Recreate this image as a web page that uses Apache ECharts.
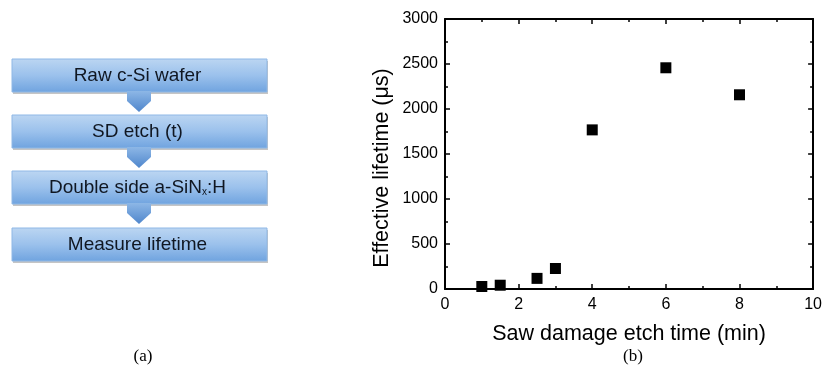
<!DOCTYPE html>
<html>
<head>
<meta charset="utf-8">
<script src="https://cdn.jsdelivr.net/npm/echarts@6/dist/echarts.min.js"></script>
<style>
  html, body { margin: 0; padding: 0; background: #fff; }
  #chart { width: 825px; height: 380px; }
</style>
</head>
<body>
<div id="chart"></div>
<script>
// Process steps (panel a)
const steps = ["Raw c-Si wafer", "SD etch (t)", "Double side a-SiN{sub|x}:H", "Measure lifetime"];
const panelLabels = ["(a)", "(b)"];

// Lifetime data (panel b)
const etchTime = [1, 1.5, 2.5, 3, 4, 6, 8];
const lifetime = [28, 42, 118, 228, 1768, 2458, 2158];

const chart = echarts.init(document.getElementById("chart"));

// --- flowchart graphics ---
const boxLeft = 12, boxWidth = 255, boxHeight = 33;
const boxTops = [59, 115, 171, 228];
const graphics = [];

boxTops.forEach(function (top, i) {
    // shadow
    graphics.push({
        type: "rect",
        shape: { x: boxLeft + 1, y: top + 2, width: boxWidth, height: boxHeight },
        style: { fill: "rgba(110,110,110,0.4)" },
        z: 1
    });
    graphics.push({
        type: "rect",
        shape: { x: boxLeft, y: top, width: boxWidth, height: boxHeight },
        style: {
            fill: new echarts.graphic.LinearGradient(0, 0, 0, 1, [
                { offset: 0, color: "#bcd6f2" },
                { offset: 0.5, color: "#9bc1ec" },
                { offset: 1, color: "#6fa3df" }
            ]),
            stroke: "#8fb8e6",
            lineWidth: 1
        },
        z: 2
    });
    graphics.push({
        type: "text",
        x: boxLeft + boxWidth / 2 - 2,
        y: top + boxHeight / 2,
        style: {
            text: steps[i],
            font: "19px 'Liberation Sans', Arial, sans-serif",
            fill: "#101722",
            align: "center",
            verticalAlign: "middle",
            rich: {
                sub: { fontSize: 10, verticalAlign: "bottom", padding: [9, 0, 0, 0], fill: "#101722" }
            }
        },
        z: 4
    });
    if (i < boxTops.length - 1) {
        const cx = 139, y0 = top + boxHeight - 1;
        graphics.push({
            type: "polygon",
            shape: {
                points: [[cx - 12, y0], [cx + 12, y0], [cx + 12, y0 + 10], [cx, y0 + 21], [cx - 12, y0 + 10]]
            },
            style: {
                fill: new echarts.graphic.LinearGradient(0, 0, 0, 1, [
                    { offset: 0, color: "#8db7e6" },
                    { offset: 1, color: "#4f86cc" }
                ])
            },
            z: 3
        });
    }
});

// panel captions
[[143, panelLabels[0]], [633, panelLabels[1]]].forEach(function (p) {
    graphics.push({
        type: "text",
        x: p[0],
        y: 357,
        style: {
            text: p[1],
            font: "17px 'Liberation Serif', 'Times New Roman', serif",
            fill: "#000",
            align: "center",
            verticalAlign: "middle"
        }
    });
});

const axisFont = { fontFamily: "'Liberation Sans', Arial, sans-serif", fontSize: 16, color: "#000" };
const nameFont = { fontFamily: "'Liberation Sans', Arial, sans-serif", fontSize: 21.5, color: "#000" };
const lineStyle = { color: "#000", width: 2 };
const tick = { show: true, inside: true, length: 5, lineStyle: { color: "#000", width: 1.5 } };
const minor = { show: true, splitNumber: 2, length: 3, lineStyle: { color: "#000", width: 1.5 } };
const plain = function (v) { return String(v); };

chart.setOption({
    animation: false,
    grid: { left: 445, right: 10, top: 19, bottom: 91, containLabel: false },
    graphic: graphics,
    xAxis: [
        {
            type: "value", min: 0, max: 10, interval: 2, position: "bottom",
            name: "Saw damage etch time (min)", nameLocation: "middle", nameGap: 34,
            nameTextStyle: nameFont,
            axisLine: { show: true, onZero: false, lineStyle: lineStyle },
            axisTick: tick,
            minorTick: minor,
            axisLabel: Object.assign({ margin: 8, formatter: plain }, axisFont),
            splitLine: { show: false }
        },
        {
            type: "value", min: 0, max: 10, interval: 2, position: "top",
            axisLine: { show: true, onZero: false, lineStyle: lineStyle },
            axisTick: tick,
            minorTick: minor,
            axisLabel: { show: false },
            splitLine: { show: false }
        }
    ],
    yAxis: [
        {
            type: "value", min: 0, max: 3000, interval: 500, position: "left",
            name: "Effective lifetime (\u03bcs)", nameLocation: "middle", nameGap: 52,
            nameTextStyle: Object.assign({ padding: [0, 28, 0, 0] }, nameFont),
            axisLine: { show: true, onZero: false, lineStyle: lineStyle },
            axisTick: tick,
            minorTick: minor,
            axisLabel: Object.assign({ margin: 7, formatter: plain }, axisFont),
            splitLine: { show: false }
        },
        {
            type: "value", min: 0, max: 3000, interval: 500, position: "right",
            axisLine: { show: true, onZero: false, lineStyle: lineStyle },
            axisTick: tick,
            minorTick: minor,
            axisLabel: { show: false },
            splitLine: { show: false }
        }
    ],
    series: [
        {
            type: "scatter",
            xAxisIndex: 0,
            yAxisIndex: 0,
            symbol: "rect",
            symbolSize: 11,
            itemStyle: { color: "#000", opacity: 1 },
            emphasis: { disabled: true },
            z: 1,
            data: etchTime.map(function (t, i) { return [t, lifetime[i]]; })
        },
        {
            // keeps the mirrored top/right axes active
            type: "scatter",
            xAxisIndex: 1,
            yAxisIndex: 1,
            symbolSize: 0,
            silent: true,
            data: []
        }
    ]
});
</script>
</body>
</html>
